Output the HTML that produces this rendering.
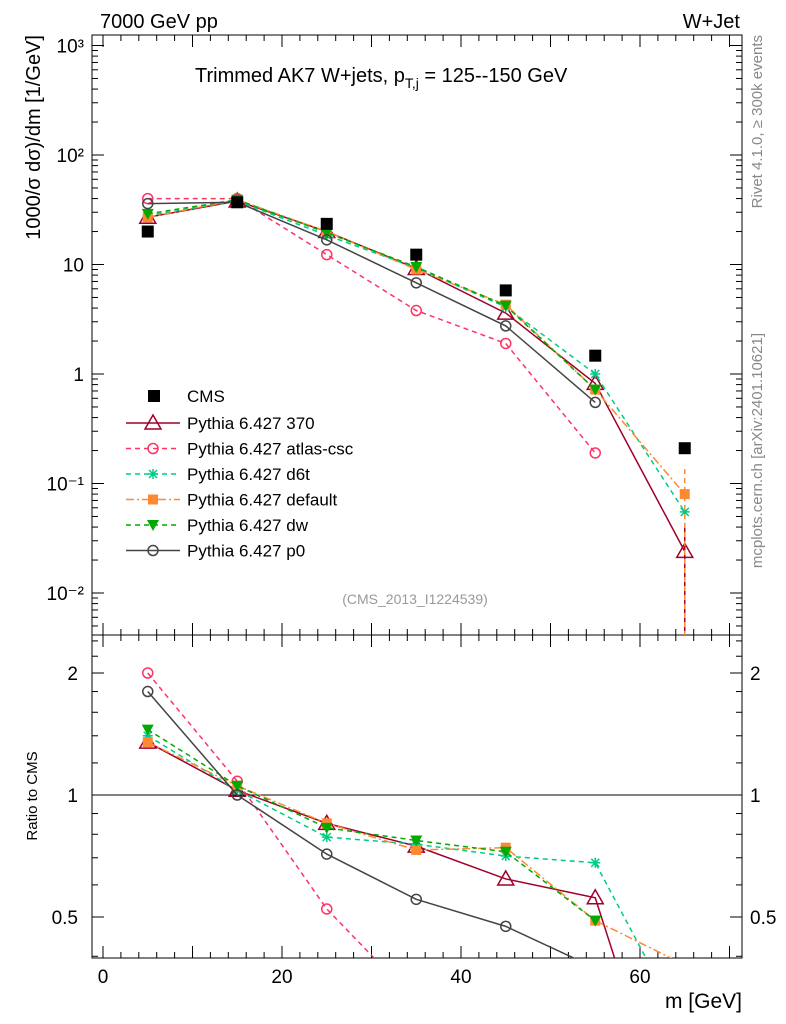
<!DOCTYPE html>
<html><head><meta charset="utf-8"><style>
html,body{margin:0;background:#fff;overflow:hidden;width:786px;height:1024px;}
svg{display:block;}
svg text{font-family:"Liberation Sans",sans-serif;}
</style></head><body>
<svg id="c" width="786" height="1024" xmlns="http://www.w3.org/2000/svg">
<defs>
<clipPath id="cm"><rect x="92" y="35" width="650" height="600"/></clipPath>
<clipPath id="cr"><rect x="92" y="635" width="650" height="323"/></clipPath>
</defs>
<g id="g"></g>
</svg>
<script>
const xs=[5,15,25,35,45,55,65];
const cms=[20,37,23.5,12.3,5.8,1.47,0.21];
const s370=[27,38,20,9.2,3.6,0.82,0.024];
const sAtlas=[40,40,12.3,3.8,1.9,0.19,null];
const sD6t=[28,38,18.5,9.3,4.1,1.0,0.055];
const sDef=[27,39,20,9,4.3,0.72,0.08];
const sDw=[29,39,19.5,9.5,4.2,0.72,null];
const sP0=[36,37,16.8,6.8,2.75,0.55,null];
const xTicks=[0,20,40,60];
const yTickLabels=["10\u207B\u00B2","10\u207B\u00B9","1","10","10\u00B2","10\u00B3"];
const rTicks=[0.5,1,2];

const NS="http://www.w3.org/2000/svg";
const g=document.getElementById('g');
function el(t,a,p){const e=document.createElementNS(NS,t);for(const k in a)e.setAttribute(k,a[k]);(p||g).appendChild(e);return e;}
const X=v=>103+v*8.95;
const Y=v=>374-Math.log10(v)*109.5;
const R=v=>795-Math.log2(v)*122;

let f=el('rect',{x:92,y:35,width:650,height:600,fill:'none',stroke:'#000','stroke-width':1});

f=el('rect',{x:92,y:635,width:650,height:323,fill:'none',stroke:'#000','stroke-width':1});


for(let v=0;v<=70;v+=2){
  const big=v%10===0, len=big?12:6;
  el('line',{x1:X(v),x2:X(v),y1:635,y2:635-len,stroke:'#000'});
  el('line',{x1:X(v),x2:X(v),y1:958,y2:958-len,stroke:'#000'});
  el('line',{x1:X(v),x2:X(v),y1:635,y2:635+len,stroke:'#000'});
  el('line',{x1:X(v),x2:X(v),y1:35,y2:35+len,stroke:'#000'});
}
xTicks.forEach(v=>{const t=el('text',{x:X(v),y:983,'font-size':19,'text-anchor':'middle'});t.textContent=v;
});
let t=el('text',{x:742,y:1008,'font-size':21,'text-anchor':'end'});t.textContent='m [GeV]';


for(let d=-3;d<=3;d++){for(let m=1;m<10;m++){const v=m*Math.pow(10,d);const y=Y(v);if(y<35||y>635)continue;
 const len=m===1?12:6;
 el('line',{x1:92,x2:92+len,y1:y,y2:y,stroke:'#000'});el('line',{x1:742,x2:742-len,y1:y,y2:y,stroke:'#000'});}}
yTickLabels.forEach((s,i)=>{const tt=el('text',{x:84,y:Y(Math.pow(10,i-2))+7,'font-size':19,'text-anchor':'end'});tt.textContent=s;
});
t=el('text',{x:0,y:0,'font-size':20,'text-anchor':'end',transform:'translate(40,35) rotate(-90)'});t.textContent='1000/σ  dσ)/dm [1/GeV]';


[0.4,0.5,0.6,0.7,0.8,0.9,1,1.2,1.4,1.6,1.8,2,2.2,2.4].forEach(v=>{const y=R(v);const big=[0.5,1,2].includes(v);const len=big?12:6;
 el('line',{x1:92,x2:92+len,y1:y,y2:y,stroke:'#000'});el('line',{x1:742,x2:742-len,y1:y,y2:y,stroke:'#000'});});
rTicks.forEach(v=>{let a=el('text',{x:78,y:R(v)+7,'font-size':19,'text-anchor':'end'});a.textContent=v;

a=el('text',{x:750,y:R(v)+7,'font-size':19});a.textContent=v;
});
el('line',{x1:92,x2:742,y1:R(1),y2:R(1),stroke:'#000'});
t=el('text',{x:0,y:0,'font-size':15,'text-anchor':'middle',transform:'translate(37,796) rotate(-90)'});t.textContent='Ratio to CMS';


[[100,28,'7000 GeV pp','start',20,'header-left'],[740,28,'W+Jet','end',20,'header-right']].forEach(a=>{const q=el('text',{x:a[0],y:a[1],'font-size':a[4],'text-anchor':a[3]});q.textContent=a[2];
});
t=el('text',{x:195,y:82,'font-size':20});t.innerHTML='Trimmed AK7 W+jets, p<tspan font-size="14" dy="6">T,j</tspan><tspan dy="-6"> = 125--150 GeV</tspan>';

t=el('text',{x:415,y:604,'font-size':14,fill:'#999','text-anchor':'middle'});t.textContent='(CMS_2013_I1224539)';

t=el('text',{x:0,y:0,'font-size':15,fill:'#888','text-anchor':'end',transform:'translate(762,35) rotate(-90)'});t.textContent='Rivet 4.1.0, ≥ 300k events';

t=el('text',{x:0,y:0,'font-size':15,fill:'#888','text-anchor':'end',transform:'translate(762,333) rotate(-90)'});t.textContent='mcplots.cern.ch [arXiv:2401.10621]';


const series=[
 {n:'pythia-370',d:s370,c:'#a0002a',dash:'',m:'tri'},
 {n:'pythia-atlas-csc',d:sAtlas,c:'#ff3366',dash:'5,4',m:'circ'},
 {n:'pythia-d6t',d:sD6t,c:'#00cc88',dash:'5,4',m:'star'},
 {n:'pythia-default',d:sDef,c:'#ff8833',dash:'8,3,2,3',m:'sq'},
 {n:'pythia-dw',d:sDw,c:'#00aa00',dash:'5,4',m:'tridown'},
 {n:'pythia-p0',d:sP0,c:'#444444',dash:'',m:'circ'}];
const labels=['Pythia 6.427 370','Pythia 6.427 atlas-csc','Pythia 6.427 d6t','Pythia 6.427 default','Pythia 6.427 dw','Pythia 6.427 p0'];

function marker(type,x,y,c,parent){
 let e;
 if(type==='tri')e=el('path',{d:`M${x},${y-8}L${x+8},${y+6}L${x-8},${y+6}Z`,fill:'none',stroke:c,'stroke-width':1.5},parent);
 else if(type==='tridown')e=el('path',{d:`M${x-6},${y-5}L${x+6},${y-5}L${x},${y+6}Z`,fill:c},parent);
 else if(type==='circ')e=el('circle',{cx:x,cy:y,r:5,fill:'none',stroke:c,'stroke-width':1.5},parent);
 else if(type==='sq')e=el('rect',{x:x-5,y:y-5,width:10,height:10,fill:c},parent);
 else if(type==='star')e=el('path',{d:`M${x-5},${y}H${x+5}M${x},${y-5}V${y+5}M${x-4},${y-4}L${x+4},${y+4}M${x-4},${y+4}L${x+4},${y-4}`,stroke:c,'stroke-width':1.5},parent);
 else e=el('rect',{x:x-6,y:y-6,width:12,height:12,fill:c},parent);
 return e;
}
const gm=el('g',{'clip-path':'url(#cm)'});
const gr=el('g',{'clip-path':'url(#cr)'});
series.forEach(s=>{
 const pm=[],pr=[];
 s.d.forEach((v,i)=>{if(v==null)return;pm.push(X(xs[i])+','+Y(v));pr.push(X(xs[i])+','+R(v/cms[i]));});
 let l=el('polyline',{points:pm.join(' '),fill:'none',stroke:s.c,'stroke-width':1.5,'stroke-dasharray':s.dash},gm);
 
 l=el('polyline',{points:pr.join(' '),fill:'none',stroke:s.c,'stroke-width':1.5,'stroke-dasharray':s.dash},gr);
 
 s.d.forEach((v,i)=>{if(v==null)return;
  let mk=marker(s.m,X(xs[i]),Y(v),s.c,gm);
  mk=marker(s.m,X(xs[i]),R(v/cms[i]),s.c,gr);
 });
});
// error bars at last bin (vertical lines down to bottom)
[s370,sD6t,sDef].forEach((d,k)=>{const c=[ '#a0002a','#00cc88','#ff8833'][k];
 const e=el('line',{x1:X(xs[6]),x2:X(xs[6]),y1:Y(d[6])-25,y2:635,stroke:c,'stroke-width':1.5,'stroke-dasharray':k?'5,4':''},gm);
 });
cms.forEach((v,i)=>{const mk=marker('cms',X(xs[i]),Y(v),'#000',gm);});

const lg=el('g',{});
let mk=marker('cms',154,396,'#000',lg);
t=el('text',{x:187,y:402,'font-size':17},lg);t.textContent='CMS';
series.forEach((s,i)=>{const y=423+i*25.5;
 let l=el('line',{x1:126,x2:180,y1:y,y2:y,stroke:s.c,'stroke-width':1.5,'stroke-dasharray':s.dash},lg);
 
 let m=marker(s.m,153,y,s.c,lg);
 let tx=el('text',{x:187,y:y+6,'font-size':17},lg);tx.textContent=labels[i];
 
});
</script>
</body></html>
